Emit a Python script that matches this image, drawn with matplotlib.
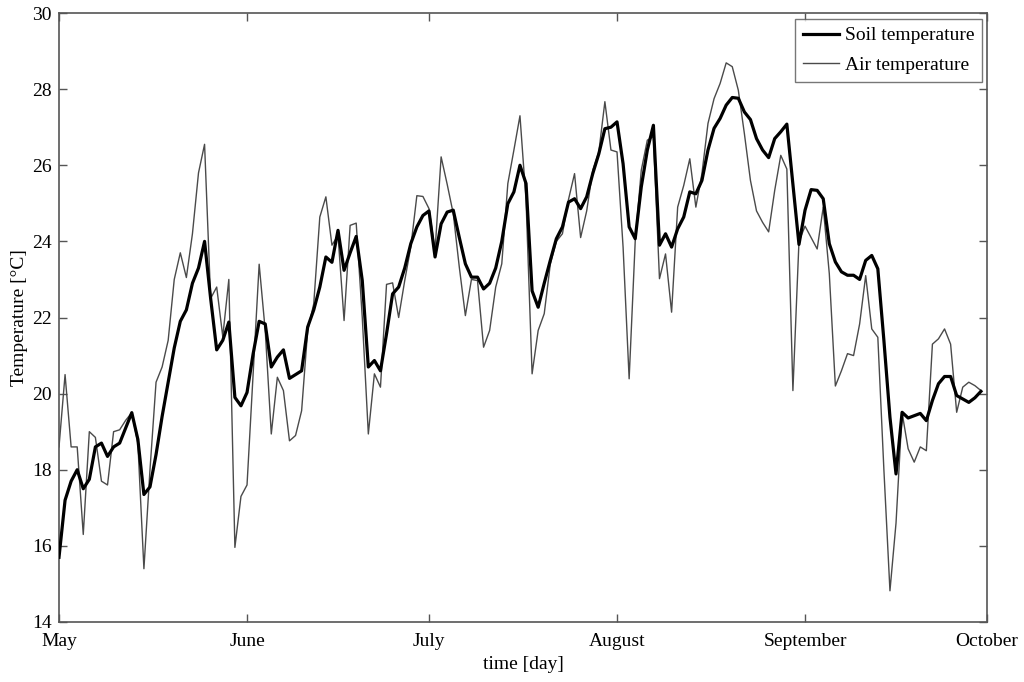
import matplotlib
matplotlib.use("Agg")
import matplotlib.pyplot as plt
import numpy as np

month_labels = ["May", "June", "July", "August", "September", "October"]
month_starts = [0, 31, 61, 92, 123, 153]

soil_temperature = [
    15.7, 17.2, 17.7, 18.0, 17.5, 17.75, 18.6, 18.7, 18.35, 18.6,
    18.7, 19.1, 19.5, 18.8, 17.35, 17.55, 18.4, 19.4, 20.3, 21.2,
    21.9, 22.2, 22.9, 23.3, 24.0, 22.5, 21.15, 21.4, 21.88, 19.9,
    19.68, 20.03, 21.04, 21.9, 21.83, 20.7, 20.96, 21.15, 20.4, 20.5,
    20.6, 21.75, 22.2, 22.8, 23.59, 23.45, 24.29, 23.24, 23.7, 24.13,
    22.97, 20.7, 20.87, 20.6, 21.57, 22.62, 22.8, 23.3, 23.94, 24.38,
    24.68, 24.8, 23.59, 24.46, 24.77, 24.82, 24.1, 23.41, 23.06, 23.06,
    22.75, 22.9, 23.3, 24.0, 24.99, 25.3, 26.0, 25.52, 22.7, 22.27,
    22.9, 23.5, 24.07, 24.38, 25.03, 25.12, 24.86, 25.17, 25.78, 26.3,
    26.96, 27.0, 27.14, 26.04, 24.38, 24.07, 25.43, 26.4, 27.05, 23.9,
    24.2, 23.85, 24.33, 24.64, 25.3, 25.25, 25.6, 26.4, 26.97, 27.23,
    27.58, 27.78, 27.76, 27.4, 27.2, 26.7, 26.4, 26.2, 26.7, 26.88,
    27.08, 25.5, 23.92, 24.82, 25.36, 25.34, 25.12, 23.94, 23.46, 23.2,
    23.11, 23.11, 23.0, 23.5, 23.63, 23.28, 21.4, 19.38, 17.89, 19.51,
    19.36, 19.42, 19.48, 19.29, 19.82, 20.26, 20.45, 20.45, 19.95, 19.86,
    19.77, 19.89, 20.06,
]

air_temperature = [
    18.6, 20.5, 18.6, 18.6, 16.3, 19.0, 18.85, 17.7, 17.6, 19.0,
    19.05, 19.3, 19.5, 18.7, 15.4, 18.0, 20.3, 20.7, 21.4, 23.0,
    23.7, 23.05, 24.2, 25.8, 26.55, 22.5, 22.8, 21.5, 23.0, 15.96,
    17.3, 17.6, 20.5, 23.4, 21.66, 18.94, 20.43, 20.08, 18.76, 18.9,
    19.55, 21.66, 22.36, 24.64, 25.17, 23.9, 24.16, 21.92, 24.42, 24.48,
    22.0, 18.94, 20.52, 20.17, 22.87, 22.91, 22.0, 22.97, 23.85, 25.2,
    25.18, 24.86, 23.76, 26.22, 25.5, 24.73, 23.32, 22.05, 23.0, 22.97,
    21.22, 21.66, 22.8, 23.41, 25.52, 26.4, 27.3, 25.08, 20.52, 21.66,
    22.1, 23.4, 24.0, 24.2, 25.1, 25.78, 24.1, 24.8, 25.87, 26.35,
    27.67, 26.4, 26.35, 23.85, 20.39, 24.0, 25.87, 26.66, 26.75, 23.02,
    23.67, 22.14, 24.9, 25.47, 26.17, 24.9, 25.78, 27.1, 27.75, 28.15,
    28.69, 28.59, 27.97, 26.83, 25.6, 24.8, 24.5, 24.25, 25.34, 26.26,
    25.9, 20.08, 24.0, 24.4, 24.1, 23.8, 24.9, 23.15, 20.2, 20.6,
    21.05, 21.0, 21.83, 23.1, 21.7, 21.48, 18.0, 14.82, 16.6, 19.5,
    18.55, 18.2, 18.6, 18.5, 21.3, 21.44, 21.7, 21.3, 19.51, 20.17,
    20.3, 20.21, 20.08,
]

days = np.arange(len(soil_temperature))

plt.rcParams['font.family'] = ['Liberation Serif', 'DejaVu Serif']

fig = plt.figure(figsize=(10.24, 6.82), dpi=100)
ax = fig.add_axes([59 / 1024, 1 - 622 / 682, (987 - 59) / 1024, (622 - 13) / 682])

ax.plot(days, soil_temperature, color='black', lw=2.3, label='Soil temperature', zorder=3)
ax.plot(days, air_temperature, color='#4a4a4a', lw=1.0, label='Air temperature', zorder=2)

ax.set_xlim(0, 153)
ax.set_ylim(14, 30)
ax.set_xticks(month_starts)
ax.set_xticklabels(month_labels)
ax.set_yticks(np.arange(14, 31, 2))

ax.tick_params(direction='in', top=True, right=True, length=6, width=1.0,
               color='#555555', labelsize=14)
ax.tick_params(axis='x', pad=8)
ax.tick_params(axis='y', pad=5)
for s in ax.spines.values():
    s.set_color('#555555')
    s.set_linewidth(1.2)

ax.set_xlabel('time [day]', fontsize=14, labelpad=4)
ax.set_ylabel('Temperature [\u00b0C]', fontsize=14, labelpad=3)

leg = ax.legend(loc='upper right', bbox_to_anchor=(0.9946, 0.990), fontsize=14,
                frameon=True, fancybox=False, borderpad=0.4, handlelength=1.85,
                handletextpad=0.3, labelspacing=0.6, borderaxespad=0)
leg.get_frame().set_edgecolor('#555555')
leg.get_frame().set_linewidth(1.0)

fig.savefig('out.png', dpi=100)
